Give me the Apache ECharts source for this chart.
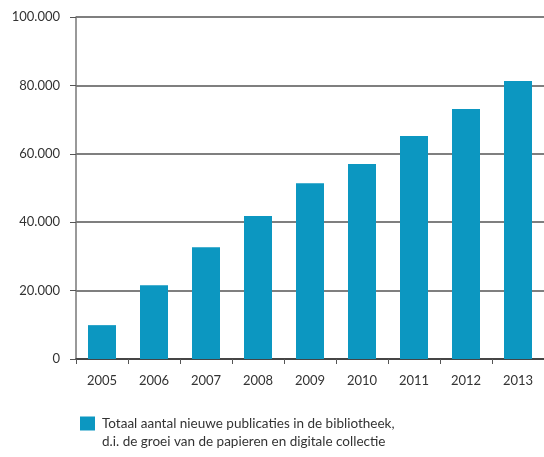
<!DOCTYPE html>
<html><head><meta charset="utf-8">
<script src="https://cdn.jsdelivr.net/npm/echarts@6/dist/echarts.min.js"></script>
<style>html,body{margin:0;padding:0;background:#fff}#c{width:544px;height:457px}</style>
</head><body><div id="c"></div>
<script>
const categories = ['2005','2006','2007','2008','2009','2010','2011','2012','2013'];
const values = [9900, 21600, 32700, 41800, 51400, 57000, 65200, 73100, 81300];
const legendLine1 = 'Totaal aantal nieuwe publicaties in de bibliotheek,';
const legendLine2 = 'd.i. de groei van de papieren en digitale collectie';
const chart = echarts.init(document.getElementById('c'), null, {renderer:'canvas'});
const font = 'Lato, "Noto Sans", sans-serif';
chart.setOption({
  animation:false,
  textStyle:{fontFamily:font},
  grid:{left:76,right:0,top:17,bottom:98,containLabel:false},
  legend:{
    left:80, top:415, padding:0, itemWidth:15, itemHeight:14, itemGap:8,
    icon:'rect',
    textStyle:{fontFamily:font,fontSize:13.5,color:'#333',lineHeight:17,padding:[0,0,0,2]},
    data:[legendLine1]
  },
  graphic:[{
    type:'text', left:102, top:433,
    style:{text:legendLine2, fontFamily:font, fontSize:13.5, lineHeight:17, fill:'#333'}
  }],
  xAxis:{
    type:'category', data:categories,
    axisLine:{lineStyle:{color:'#333',width:1.5}},
    axisTick:{show:true,length:5,lineStyle:{color:'#555'}},
    axisLabel:{color:'#333',fontSize:13,margin:15,fontFamily:font}
  },
  yAxis:{
    type:'value', min:0, max:100000, interval:20000,
    axisLine:{show:true,lineStyle:{color:'#777',width:1.5}},
    axisTick:{show:true,length:6,lineStyle:{color:'#555'}},
    axisLabel:{color:'#333',fontSize:13,margin:16,fontFamily:font,
      formatter:v=>v===0?'0':String(v).replace(/\B(?=(\d{3})+(?!\d))/g,'.')},
    splitLine:{lineStyle:{color:'#555',width:1.5}}
  },
  series:[{
    name:legendLine1, type:'bar', data:values, barWidth:28,
    itemStyle:{color:'#0C97C1'}
  }]
});
</script></body></html>
